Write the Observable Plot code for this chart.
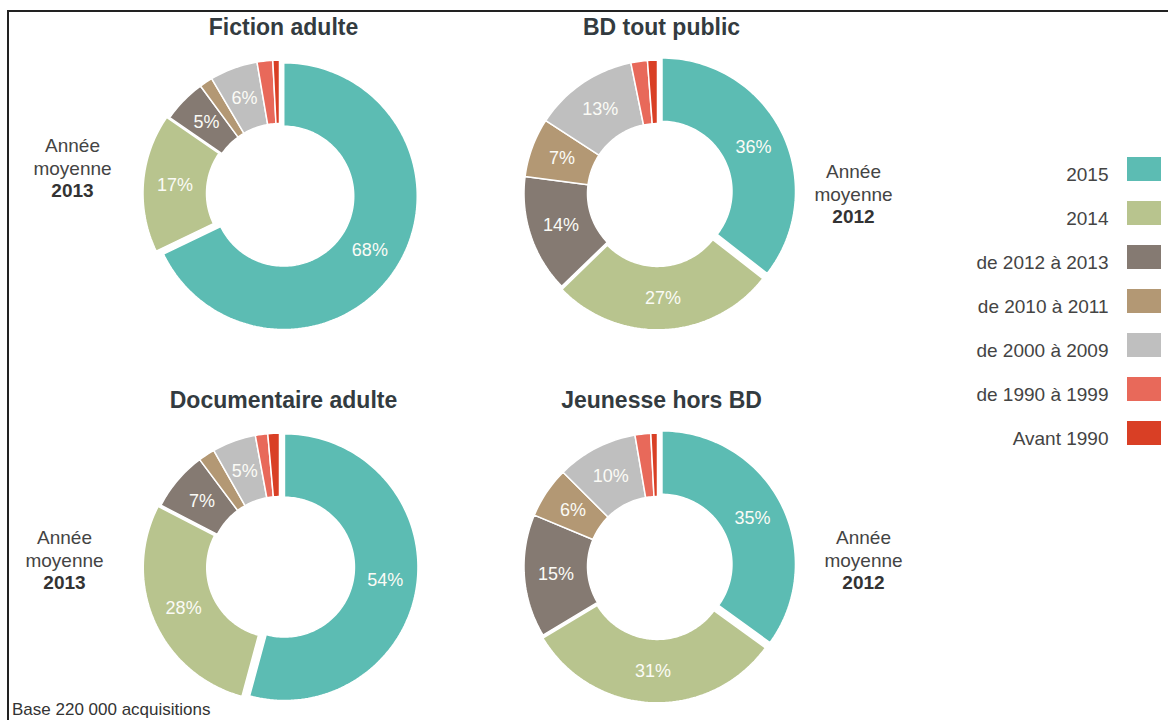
<!DOCTYPE html>
<html><head><meta charset="utf-8">
<script src="https://cdn.jsdelivr.net/npm/d3@7"></script>
<script src="https://cdn.jsdelivr.net/npm/@observablehq/plot@0.6"></script>
<style>
html,body{margin:0;padding:0;background:#fff;}
#page{position:relative;width:1168px;height:720px;overflow:hidden;font-family:"Liberation Sans",Arial,sans-serif;}
#chart{position:absolute;left:0;top:0;}
#legend{position:absolute;left:921px;top:145px;}
#frame{position:absolute;left:7px;top:10px;width:1200px;height:800px;border-top:2px solid #222;border-left:2px solid #222;}
#footer{position:absolute;left:12px;top:701px;font-size:17px;line-height:17px;color:#333;}
</style></head><body>
<div id="page"><div id="frame"></div><div id="chart"></div><div id="legend"></div><div id="footer">Base 220 000 acquisitions</div></div>
<script>
// ---- data ----
const categories = ["2015", "2014", "de 2012 à 2013", "de 2010 à 2011", "de 2000 à 2009", "de 1990 à 1999", "Avant 1990"];
const charts = ["Fiction adulte", "BD tout public", "Documentaire adulte", "Jeunesse hors BD"];
const fictionAdulte = [68, 16.8, 5.3, 1.6, 5.8, 1.9, 0.8];
const bdToutPublic = [35.6, 27.2, 14.3, 7.2, 12.6, 2.0, 1.2];
const documentaireAdulte = [54.2, 28.4, 7.2, 2.0, 5.3, 1.5, 1.4];
const jeunesseHorsBD = [35, 31.4, 14.9, 6.2, 9.8, 1.9, 0.8];
const meanYears = [2013, 2012, 2013, 2012];
const chartValues = [fictionAdulte, bdToutPublic, documentaireAdulte, jeunesseHorsBD];

// ---- style / layout ----
const colors = ["#5cbcb3", "#b8c48e", "#857a72", "#b39874", "#bfbfbf", "#e8695a", "#d93f25"];
const R = 133.5, RIN = 70;             // px
const cellW = 378, step = 373, padInner = 0.2;
const cellH = step * (1 - padInner);
const gridCol = ["L", "R", "L", "R"], gridRow = ["T", "T", "B", "B"];
const explodePx = {"2015": 5, "2014": 3};
const notePos = [{dx: -207, top: -49}, {dx: 196, top: -23}, {dx: -215, top: -30}, {dx: 206, top: -30}];
const lineGap = 23, titleOffset = 166;

const polys = [], labels = [], titles = [], notes = [], years = [];
charts.forEach((name, i) => {
  const col = gridCol[i], row = gridRow[i];
  const rows = categories.map((c, j) => ({cat: c, value: chartValues[i][j]}));
  const arcs = d3.pie().sort(null).value(d => d.value)(rows);
  arcs.forEach(a => {
    const mid = (a.startAngle + a.endAngle) / 2;
    const e = (explodePx[a.data.cat] || 0) / R;
    const ex = e * Math.sin(mid), ey = e * Math.cos(mid);
    const n = Math.max(2, Math.ceil((a.endAngle - a.startAngle) / (Math.PI / 120)));
    const id = name + "|" + a.data.cat;
    const rin = RIN / R;
    for (let k = 0; k <= n; k++) {
      const t = a.startAngle + (a.endAngle - a.startAngle) * k / n;
      polys.push({id, col, row, cat: a.data.cat, x: Math.sin(t) + ex, y: Math.cos(t) + ey});
    }
    for (let k = n; k >= 0; k--) {
      const t = a.startAngle + (a.endAngle - a.startAngle) * k / n;
      polys.push({id, col, row, cat: a.data.cat, x: rin * Math.sin(t) + ex, y: rin * Math.cos(t) + ey});
    }
    if (a.data.value >= 4) {
      const rm = (1 + rin) / 2;
      labels.push({col, row, x: rm * Math.sin(mid) + ex, y: rm * Math.cos(mid) + ey, text: Math.round(a.data.value) + "%"});
    }
  });
  titles.push({col, row, x: 4 / R, y: titleOffset / R, text: name});
  const p = notePos[i];
  notes.push({col, row, x: p.dx / R, y: -(p.top + lineGap / 2) / R, text: "Année\nmoyenne"});
  years.push({col, row, x: p.dx / R, y: -(p.top + 2 * lineGap) / R, text: String(meanYears[i])});
});

const xHalf = cellW / 2 / R, yHalf = cellH / 2 / R;
const font = '"Liberation Sans", Arial, sans-serif';
const chart = Plot.plot({
  width: 1168, height: 720,
  marginLeft: 90, marginRight: 1168 - 90 - 2 * cellW,
  marginTop: 44, marginBottom: 720 - 44 - step * (2 - padInner),
  fx: {domain: ["L", "R"], paddingInner: 0, paddingOuter: 0, axis: null},
  fy: {domain: ["T", "B"], paddingInner: padInner, paddingOuter: 0, axis: null},
  x: {domain: [-xHalf, xHalf], axis: null},
  y: {domain: [-yHalf, yHalf], axis: null},
  color: {domain: categories, range: colors},
  style: {fontFamily: font, background: "transparent", overflow: "visible"},
  marks: [
    Plot.line(polys, {x: "x", y: "y", z: "id", fx: "col", fy: "row", fill: "cat", stroke: "white", strokeWidth: 1.5, curve: "linear-closed"}),
    Plot.text(labels, {x: "x", y: "y", fx: "col", fy: "row", text: "text", fill: "#fbfbf6", fontSize: 18}),
    Plot.text(titles, {x: "x", y: "y", fx: "col", fy: "row", text: "text", fill: "#333b40", fontSize: 23, fontWeight: "bold"}),
    Plot.text(notes, {x: "x", y: "y", fx: "col", fy: "row", text: "text", fill: "#444", fontSize: 19, lineHeight: 23 / 19}),
    Plot.text(years, {x: "x", y: "y", fx: "col", fy: "row", text: "text", fill: "#333", fontSize: 19, fontWeight: "bold"})
  ]
});
document.getElementById("chart").appendChild(chart);

const legend = Plot.plot({
  width: 240, height: 312,
  marginLeft: 206, marginRight: 0, marginTop: 0, marginBottom: 0,
  x: {domain: ["sw"], axis: null, paddingInner: 0, paddingOuter: 0},
  y: {domain: categories, axis: null, paddingInner: 0.46, paddingOuter: 0.23},
  color: {domain: categories, range: colors},
  style: {fontFamily: font, background: "transparent", overflow: "visible"},
  marks: [
    Plot.cell(categories, {x: () => "sw", y: d => d, fill: d => d, inset: 0}),
    Plot.text(categories, {x: () => "sw", y: d => d, text: d => d, textAnchor: "end", dx: -36, dy: 5, fontSize: 19, fill: "#444"})
  ]
});
document.getElementById("legend").appendChild(legend);
</script>
</body></html>
